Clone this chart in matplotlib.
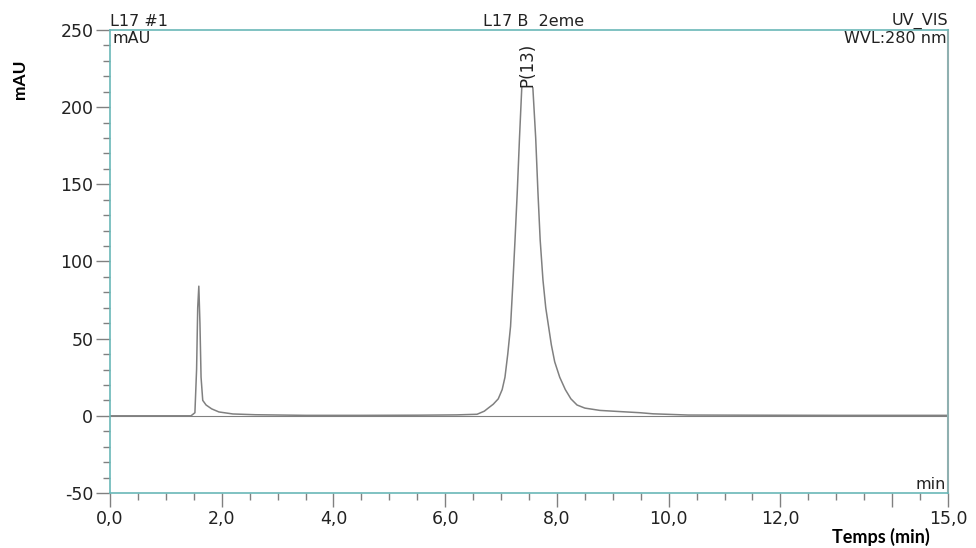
import matplotlib.pyplot as plt
from matplotlib.ticker import FixedLocator, MultipleLocator

# Chromatogramme (temps en min, absorbance en mAU)
temps = [0.0, 0.5, 1.0, 1.45, 1.52, 1.55, 1.57, 1.59, 1.61, 1.63, 1.66, 1.72,
         1.82, 1.95, 2.2, 2.6, 3.5, 4.5, 5.5, 6.2, 6.57, 6.70, 6.77, 6.86,
         6.95, 7.02, 7.07, 7.12, 7.17, 7.21, 7.25, 7.29, 7.33, 7.37, 7.41,
         7.46, 7.51, 7.57, 7.62, 7.66, 7.70, 7.75, 7.80, 7.85, 7.90, 7.96,
         8.05, 8.15, 8.25, 8.36, 8.5, 8.77, 9.1, 9.49, 9.72, 10.35, 11.5,
         13.0, 15.0]
absorbance = [0.0, 0.0, 0.0, 0.0, 2.0, 30.0, 70.0, 84.0, 60.0, 25.0, 10.0, 7.0,
              4.5, 2.5, 1.2, 0.7, 0.3, 0.3, 0.4, 0.6, 1.0, 3.0, 5.0, 7.5,
              11.0, 17.0, 25.0, 40.0, 58.0, 85.0, 114.0, 145.0, 180.0, 212.0,
              226.0, 230.0, 226.0, 212.0, 180.0, 145.0, 114.0, 88.0, 70.0,
              58.0, 46.0, 35.0, 25.0, 17.0, 11.0, 7.0, 5.0, 3.5, 2.8, 2.0,
              1.3, 0.5, 0.4, 0.3, 0.3]

x_ticks = [0, 2, 4, 6, 8, 10, 12, 14, 15]
x_labels = ['0,0', '2,0', '4,0', '6,0', '8,0', '10,0', '12,0', '', '15,0']
y_ticks = [-50, 0, 50, 100, 150, 200, 250]
y_labels = ['-50', '0', '50', '100', '150', '200', '250']

teal = '#6ab8b8'
gris = '#808080'
police = 'DejaVu Sans'
noir = '#222222'

fig = plt.figure(figsize=(9.76, 5.48), dpi=100)
ax = fig.add_axes([0.1127, 0.1004, 0.8586, 0.8449])

ax.plot(temps, absorbance, color=gris, linewidth=1.1)
ax.axhline(0, color=gris, linewidth=0.8, zorder=0)

ax.set_xlim(0, 15)
ax.set_ylim(-50, 250)

ax.xaxis.set_major_locator(FixedLocator(x_ticks))
ax.set_xticklabels(x_labels)
ax.xaxis.set_minor_locator(MultipleLocator(0.5))
ax.yaxis.set_major_locator(FixedLocator(y_ticks))
ax.set_yticklabels(y_labels)
ax.yaxis.set_minor_locator(MultipleLocator(10))

for lab in ax.get_xticklabels() + ax.get_yticklabels():
    lab.set_family(police)
    lab.set_fontsize(12.5)
    lab.set_color(noir)

ax.tick_params(which='major', direction='out', length=10, width=1, color=gris, pad=2)
ax.tick_params(which='minor', direction='out', length=5, width=1, color=gris)

for cote in ['left', 'top', 'bottom']:
    ax.spines[cote].set_color(teal)
    ax.spines[cote].set_linewidth(1.2)
ax.spines['right'].set_color('#8fb0b0')
ax.spines['right'].set_linewidth(1.5)

# textes de l'en-tête Chromeleon
ax.text(0.0, 1.003, 'L17 #1', transform=ax.transAxes, ha='left', va='bottom',
        fontsize=11.5, family=police, color=noir)
ax.text(0.003, 0.997, 'mAU', transform=ax.transAxes, ha='left', va='top',
        fontsize=11.5, family=police, color=noir)
ax.text(0.505, 1.003, 'L17 B  2eme', transform=ax.transAxes, ha='center', va='bottom',
        fontsize=11.5, family=police, color=noir)
ax.text(1.0, 1.003, 'UV_VIS', transform=ax.transAxes, ha='right', va='bottom',
        fontsize=11.5, family=police, color=noir)
ax.text(0.998, 0.997, 'WVL:280 nm', transform=ax.transAxes, ha='right', va='top',
        fontsize=11.5, family=police, color=noir)
ax.text(0.998, 0.003, 'min', transform=ax.transAxes, ha='right', va='bottom',
        fontsize=11.5, family=police, color=noir)
ax.text(7.47, 213, 'P(13)', rotation=90, ha='center', va='bottom',
        fontsize=12, family=police, color=noir,
        bbox=dict(facecolor='white', edgecolor='none', pad=0.0))

fig.text(0.021, 0.855, 'mAU', rotation=90, ha='center', va='center',
         fontsize=12.5, fontweight='bold', family='Lato')
fig.text(0.903, 0.004, 'Temps (min)', ha='center', va='bottom',
         fontsize=13, fontweight='bold', family='Lato')

fig.savefig('out.png', dpi=100)
